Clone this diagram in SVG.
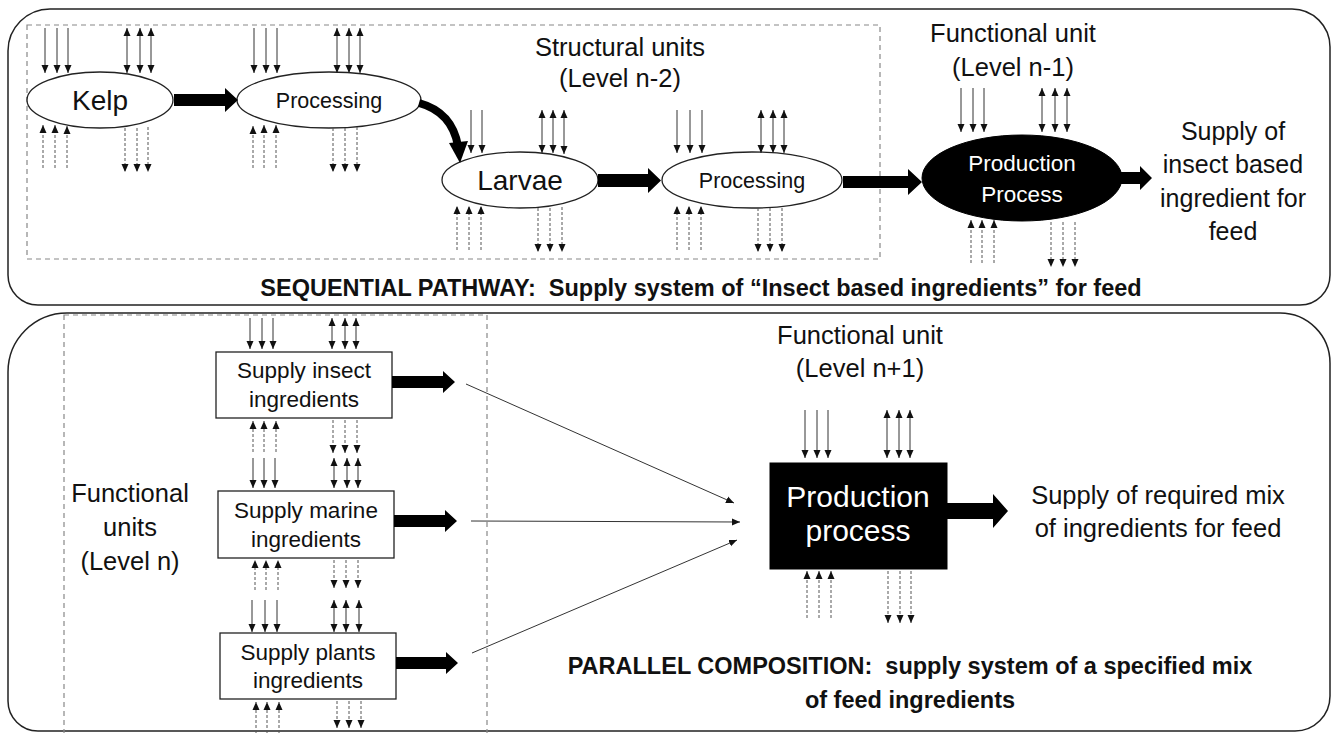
<svg xmlns="http://www.w3.org/2000/svg" width="1338" height="733" viewBox="0 0 1338 733">
<style>
text{font-family:"Liberation Sans",Arial,sans-serif;fill:#111;white-space:pre}
.c{text-anchor:middle}
.w{fill:#fff}
.b{font-weight:bold}
.panel{fill:none;stroke:#222;stroke-width:1.5}
.dbox{fill:none;stroke:#888;stroke-width:1.2;stroke-dasharray:5 4}
.node{fill:#fff;stroke:#222;stroke-width:1.3}
.blk{fill:#000;stroke:#000}
.sa{stroke:#333;stroke-width:1;fill:none;marker-end:url(#ah)}
.da{stroke:#333;stroke-width:1;fill:none;marker-end:url(#ah);marker-start:url(#ah)}
.ds{stroke:#555;stroke-width:1;fill:none;stroke-dasharray:3 2;marker-end:url(#ah)}
.thin{stroke:#333;stroke-width:1;fill:none;marker-end:url(#ah)}
.thick{fill:#000}
</style>
<defs>
<marker id="ah" markerWidth="8" markerHeight="8" refX="8" refY="4" orient="auto-start-reverse" markerUnits="userSpaceOnUse"><path d="M0,0.5 L8,4 L0,7.5 z" fill="#111"/></marker>
</defs>

<g id="panel-sequential">
<path class="panel" d="M50,9 H1292 A38,38 0 0 1 1330,47 V275 A30,30 0 0 1 1300,305 H38 A30,30 0 0 1 8,275 V51 A42,42 0 0 1 50,9 Z"/>
<rect class="dbox" x="27" y="25" width="853" height="234"/>
<text class="c" x="620" y="56" font-size="25.5">Structural units</text>
<text class="c" x="620" y="87" font-size="25.5">(Level n-2)</text>
<text class="c" x="1013" y="42" font-size="25.5">Functional unit</text>
<text class="c" x="1013" y="76" font-size="25.5">(Level n-1)</text>
<text class="c b" x="701" y="296" font-size="23.5">SEQUENTIAL PATHWAY:  Supply system of “Insect based ingredients” for feed</text>
</g>

<g id="panel-parallel">
<path class="panel" d="M67,313 H1280 A50,50 0 0 1 1330,363 V696 A35,35 0 0 1 1295,731 H38 A30,30 0 0 1 8,701 V372 A59,59 0 0 1 67,313 Z"/>
<rect class="dbox" x="64" y="315" width="423" height="430"/>
<text class="c" x="130" y="502" font-size="25.5">Functional</text>
<text class="c" x="130" y="536" font-size="25.5">units</text>
<text class="c" x="130" y="570" font-size="25.5">(Level n)</text>
<text class="c" x="860" y="344" font-size="25.5">Functional unit</text>
<text class="c" x="860" y="377" font-size="25.5">(Level n+1)</text>
<text class="c b" x="910" y="674" font-size="23.5">PARALLEL COMPOSITION:  supply system of a specified mix</text>
<text class="c b" x="910" y="708" font-size="23.5">of feed ingredients</text>
</g>

<g id="kelp">
<ellipse class="node" cx="100" cy="100" rx="73" ry="28"/>
<text class="c" x="100" y="110" font-size="28">Kelp</text>
</g>
<g id="processing1">
<ellipse class="node" cx="329" cy="100" rx="92" ry="28"/>
<text class="c" x="329" y="108" font-size="21.5">Processing</text>
</g>
<g id="larvae">
<ellipse class="node" cx="520" cy="180" rx="78" ry="28"/>
<text class="c" x="520" y="190" font-size="28">Larvae</text>
</g>
<g id="processing2">
<ellipse class="node" cx="752" cy="180" rx="90" ry="28"/>
<text class="c" x="752" y="188" font-size="21.5">Processing</text>
</g>
<g id="production-seq">
<ellipse class="blk" cx="1022" cy="178" rx="100" ry="43"/>
<text class="c w" x="1022" y="171" font-size="22.5">Production</text>
<text class="c w" x="1022" y="202" font-size="22.5">Process</text>
</g>
<g id="output-seq">
<text class="c" x="1233" y="140" font-size="25">Supply of</text>
<text class="c" x="1233" y="173" font-size="25">insect based</text>
<text class="c" x="1233" y="207" font-size="25">ingredient for</text>
<text class="c" x="1233" y="240" font-size="25">feed</text>
</g>

<g id="supply-insect">
<rect class="node" x="216" y="352" width="176" height="66"/>
<text class="c" x="304" y="378" font-size="22.5">Supply insect</text>
<text class="c" x="304" y="407" font-size="22.5">ingredients</text>
</g>
<g id="supply-marine">
<rect class="node" x="218" y="491" width="176" height="67"/>
<text class="c" x="306" y="518" font-size="22.5">Supply marine</text>
<text class="c" x="306" y="547" font-size="22.5">ingredients</text>
</g>
<g id="supply-plants">
<rect class="node" x="220" y="633" width="176" height="66"/>
<text class="c" x="308" y="660" font-size="22.5">Supply plants</text>
<text class="c" x="308" y="688" font-size="22.5">ingredients</text>
</g>
<g id="production-par">
<rect class="blk" x="770" y="463" width="177" height="106"/>
<text class="c w" x="858" y="507" font-size="30">Production</text>
<text class="c w" x="858" y="541" font-size="30">process</text>
</g>
<g id="output-par">
<text class="c" x="1158" y="504" font-size="25.5">Supply of required mix</text>
<text class="c" x="1158" y="537" font-size="25.5">of ingredients for feed</text>
</g>

<g id="connectors">
<!-- thick flow arrows -->
<polygon class="thick" points="174,94 225,94 225,88 238,100 225,112 225,106 174,106"/>
<path d="M419,103 Q452,112 458,146" fill="none" stroke="#000" stroke-width="8"/>
<polygon class="thick" points="449,143 468,141 460,163"/>
<polygon class="thick" points="598,174 648,174 648,168 661,180.5 648,193 648,187 598,187"/>
<polygon class="thick" points="843,176 908,176 908,169 922,182 908,195 908,188 843,188"/>
<polygon class="thick" points="1118,172 1140,172 1140,166 1152,178 1140,190 1140,184 1118,184"/>
<polygon class="thick" points="392,376 443,376 443,371 455,382 443,393 443,388 392,388"/>
<polygon class="thick" points="394,515 445,515 445,510 457,521 445,532 445,527 394,527"/>
<polygon class="thick" points="396,657 446,657 446,652 458,663 446,674 446,669 396,669"/>
<polygon class="thick" points="947,503 993,503 993,494 1008,511 993,528 993,519 947,519"/>
<!-- thin converging connectors -->
<line class="thin" x1="466" y1="384" x2="734" y2="503"/>
<line class="thin" x1="471" y1="521" x2="740" y2="522"/>
<line class="thin" x1="472" y1="653" x2="737" y2="540"/>

<!-- flows: Kelp -->
<g id="flows-kelp">
<line class="sa" x1="45" y1="28" x2="45" y2="73"/><line class="sa" x1="57" y1="28" x2="57" y2="73"/><line class="sa" x1="68" y1="28" x2="68" y2="73"/>
<line class="da" x1="127" y1="28" x2="127" y2="73"/><line class="da" x1="140" y1="28" x2="140" y2="73"/><line class="da" x1="151" y1="28" x2="151" y2="73"/>
<line class="ds" x1="43" y1="168" x2="43" y2="125"/><line class="ds" x1="55" y1="168" x2="55" y2="125"/><line class="ds" x1="67" y1="168" x2="67" y2="126"/>
<line class="ds" x1="125" y1="128" x2="125" y2="172"/><line class="ds" x1="137" y1="128" x2="137" y2="172"/><line class="ds" x1="148" y1="127" x2="148" y2="172"/>
</g>
<g id="flows-processing1">
<line class="sa" x1="254" y1="28" x2="254" y2="73"/><line class="sa" x1="266" y1="28" x2="266" y2="73"/><line class="sa" x1="277" y1="28" x2="277" y2="73"/>
<line class="da" x1="337" y1="28" x2="337" y2="73"/><line class="da" x1="349" y1="28" x2="349" y2="73"/><line class="da" x1="360" y1="28" x2="360" y2="73"/>
<line class="ds" x1="253" y1="168" x2="253" y2="126"/><line class="ds" x1="264" y1="168" x2="264" y2="125"/><line class="ds" x1="276" y1="168" x2="276" y2="125"/>
<line class="ds" x1="333" y1="128" x2="333" y2="172"/><line class="ds" x1="345" y1="128" x2="345" y2="172"/><line class="ds" x1="357" y1="127" x2="357" y2="172"/>
</g>
<g id="flows-larvae">
<line class="sa" x1="471" y1="110" x2="471" y2="153"/><line class="sa" x1="482" y1="110" x2="482" y2="153"/>
<line class="da" x1="542" y1="110" x2="542" y2="153"/><line class="da" x1="553" y1="110" x2="553" y2="153"/><line class="da" x1="564" y1="110" x2="564" y2="154"/>
<line class="ds" x1="457" y1="250" x2="457" y2="206"/><line class="ds" x1="469" y1="250" x2="469" y2="206"/><line class="ds" x1="481" y1="250" x2="481" y2="206"/>
<line class="ds" x1="538" y1="208" x2="538" y2="252"/><line class="ds" x1="550" y1="208" x2="550" y2="252"/><line class="ds" x1="562" y1="207" x2="562" y2="252"/>
</g>
<g id="flows-processing2">
<line class="sa" x1="677" y1="110" x2="677" y2="153"/><line class="sa" x1="690" y1="110" x2="690" y2="153"/><line class="sa" x1="702" y1="110" x2="702" y2="153"/>
<line class="da" x1="761" y1="110" x2="761" y2="153"/><line class="da" x1="773" y1="110" x2="773" y2="153"/><line class="da" x1="784" y1="110" x2="784" y2="153"/>
<line class="ds" x1="677" y1="250" x2="677" y2="206"/><line class="ds" x1="689" y1="250" x2="689" y2="206"/><line class="ds" x1="701" y1="250" x2="701" y2="206"/>
<line class="ds" x1="758" y1="208" x2="758" y2="252"/><line class="ds" x1="770" y1="208" x2="770" y2="252"/><line class="ds" x1="782" y1="208" x2="782" y2="252"/>
</g>
<g id="flows-production-seq">
<line class="sa" x1="961" y1="88" x2="961" y2="132"/><line class="sa" x1="973" y1="88" x2="973" y2="132"/><line class="sa" x1="984" y1="88" x2="984" y2="132"/>
<line class="da" x1="1042" y1="88" x2="1042" y2="132"/><line class="da" x1="1055" y1="88" x2="1055" y2="132"/><line class="da" x1="1067" y1="88" x2="1067" y2="132"/>
<line class="ds" x1="971" y1="263" x2="971" y2="220"/><line class="ds" x1="982" y1="263" x2="982" y2="220"/><line class="ds" x1="994" y1="263" x2="994" y2="220"/>
<line class="ds" x1="1051" y1="222" x2="1051" y2="267"/><line class="ds" x1="1063" y1="222" x2="1063" y2="267"/><line class="ds" x1="1075" y1="222" x2="1075" y2="267"/>
</g>
<g id="flows-supply-insect">
<line class="sa" x1="250" y1="318" x2="250" y2="349"/><line class="sa" x1="262" y1="318" x2="262" y2="349"/><line class="sa" x1="273" y1="318" x2="273" y2="349"/>
<line class="da" x1="332" y1="318" x2="332" y2="349"/><line class="da" x1="345" y1="318" x2="345" y2="349"/><line class="da" x1="356" y1="318" x2="356" y2="349"/>
<line class="ds" x1="253" y1="452" x2="253" y2="421"/><line class="ds" x1="264" y1="452" x2="264" y2="421"/><line class="ds" x1="276" y1="452" x2="276" y2="421"/>
<line class="ds" x1="333" y1="420" x2="333" y2="453"/><line class="ds" x1="345" y1="420" x2="345" y2="453"/><line class="ds" x1="357" y1="420" x2="357" y2="453"/>
</g>
<g id="flows-supply-marine">
<line class="sa" x1="253" y1="458" x2="253" y2="488"/><line class="sa" x1="264" y1="458" x2="264" y2="488"/><line class="sa" x1="275" y1="458" x2="275" y2="488"/>
<line class="da" x1="334" y1="458" x2="334" y2="488"/><line class="da" x1="347" y1="458" x2="347" y2="488"/><line class="da" x1="358" y1="458" x2="358" y2="488"/>
<line class="ds" x1="255" y1="590" x2="255" y2="560"/><line class="ds" x1="266" y1="590" x2="266" y2="560"/><line class="ds" x1="278" y1="590" x2="278" y2="560"/>
<line class="ds" x1="334" y1="560" x2="334" y2="588"/><line class="ds" x1="346" y1="560" x2="346" y2="588"/><line class="ds" x1="358" y1="560" x2="358" y2="588"/>
</g>
<g id="flows-supply-plants">
<line class="sa" x1="252" y1="600" x2="252" y2="632"/><line class="sa" x1="265" y1="600" x2="265" y2="632"/><line class="sa" x1="277" y1="600" x2="277" y2="632"/>
<line class="da" x1="334" y1="600" x2="334" y2="632"/><line class="da" x1="346" y1="600" x2="346" y2="632"/><line class="da" x1="359" y1="600" x2="359" y2="632"/>
<line class="ds" x1="256" y1="733" x2="256" y2="702"/><line class="ds" x1="267" y1="733" x2="267" y2="702"/><line class="ds" x1="279" y1="733" x2="279" y2="702"/>
<line class="ds" x1="337" y1="701" x2="337" y2="728"/><line class="ds" x1="349" y1="701" x2="349" y2="728"/><line class="ds" x1="361" y1="701" x2="361" y2="728"/>
</g>
<g id="flows-production-par">
<line class="sa" x1="805" y1="410" x2="805" y2="458"/><line class="sa" x1="817" y1="410" x2="817" y2="458"/><line class="sa" x1="828" y1="410" x2="828" y2="458"/>
<line class="da" x1="887" y1="410" x2="887" y2="458"/><line class="da" x1="899" y1="410" x2="899" y2="458"/><line class="da" x1="910" y1="410" x2="910" y2="458"/>
<line class="ds" x1="807" y1="618" x2="807" y2="571"/><line class="ds" x1="819" y1="618" x2="819" y2="571"/><line class="ds" x1="831" y1="618" x2="831" y2="571"/>
<line class="ds" x1="888" y1="571" x2="888" y2="623"/><line class="ds" x1="900" y1="571" x2="900" y2="623"/><line class="ds" x1="911" y1="571" x2="911" y2="623"/>
</g>
</g>
</svg>
